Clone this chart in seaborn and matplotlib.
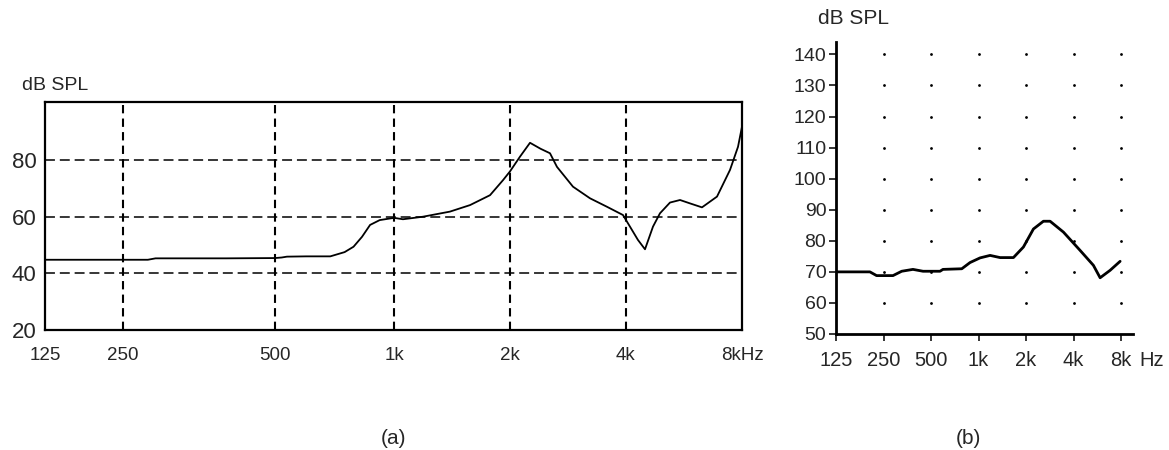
import numpy as np
import pandas as pd
import matplotlib
matplotlib.use("Agg")
import matplotlib.pyplot as plt
import seaborn as sns

# ---- data ----------------------------------------------------------------
# (a) response measured in the ear canal
freq_a = [125, 200, 280, 290, 400, 500, 520, 536, 600, 690, 750, 790, 830, 870,
          920, 1000, 1055, 1189, 1397, 1575, 1775, 1918, 2000, 2123, 2254, 2400,
          2540, 2648, 2914, 3226, 3571, 3928, 4096, 4296, 4481, 4700, 4900,
          5203, 5524, 5864, 6299, 6890, 7446, 7812, 8000]
spl_a = [44.8, 44.8, 44.8, 45.3, 45.3, 45.4, 45.6, 45.9, 46.0, 46.0, 47.5, 49.4,
         52.9, 57.1, 58.8, 59.6, 59.1, 60.0, 61.8, 64.1, 67.6, 72.9, 76.0, 81.2,
         86.1, 84.0, 82.4, 77.6, 70.6, 66.5, 63.5, 60.6, 56.5, 51.8, 48.5, 56.5,
         61.2, 65.0, 65.9, 64.7, 63.3, 67.1, 76.5, 84.7, 91.8]

# (b) response of the second device
freq_b = [125, 205, 226, 287, 326, 384, 445, 570, 595, 783, 883, 1022, 1183,
          1369, 1663, 1924, 2226, 2575, 2839, 3449, 4400, 5341, 5889, 6813, 7885]
spl_b = [70.0, 70.0, 68.8, 68.8, 70.2, 70.8, 70.2, 70.2, 70.8, 71.0, 73.0, 74.5,
         75.3, 74.6, 74.6, 78.0, 83.8, 86.3, 86.3, 82.8, 76.9, 72.1, 68.1, 70.5,
         73.4]

octave_ticks = [125, 250, 500, 1000, 2000, 4000, 8000]
tick_labels_a = ["125", "250", "500", "1k", "2k", "4k", "8kHz"]
tick_labels_b = ["125", "250", "500", "1k", "2k", "4k", "8k"]
yticks_a = [20, 40, 60, 80]
yticks_b = [50, 60, 70, 80, 90, 100, 110, 120, 130, 140]

df_a = pd.DataFrame({"freq": freq_a, "spl": spl_a})
df_b = pd.DataFrame({"freq": freq_b, "spl": spl_b})

# ---- style ---------------------------------------------------------------
sns.set_style("white")
plt.rcParams["font.family"] = ["Liberation Sans", "DejaVu Sans"]

fig = plt.figure(figsize=(11.69, 4.5), dpi=100)

# Panel (a): the analyser spaces its octave columns unevenly
ax_a = fig.add_axes([45 / 1169, 120 / 450, 697 / 1169, 228 / 450])
oct_log = np.log2(np.array(octave_ticks, dtype=float))
col_pos = np.array([45, 123, 275, 394, 510, 626, 742], dtype=float)


def fwd(f):
    f = np.clip(np.asarray(f, dtype=float), 1e-3, None)
    return np.interp(np.log2(f), oct_log, col_pos)


def inv(p):
    return 2.0 ** np.interp(np.asarray(p, dtype=float), col_pos, oct_log)


ax_a.set_xscale("function", functions=(fwd, inv))
sns.lineplot(data=df_a, x="freq", y="spl", ax=ax_a, color="black",
             linewidth=1.3, sort=False)
ax_a.set_xlim(125, 8000)
ax_a.set_ylim(20, 100.5)
ax_a.set_xticks(octave_ticks)
ax_a.set_xticklabels(tick_labels_a)
ax_a.xaxis.set_minor_locator(matplotlib.ticker.NullLocator())
ax_a.set_yticks(yticks_a)
ax_a.tick_params(axis="x", length=0, pad=12, labelsize=13.5)
ax_a.tick_params(axis="y", length=0, pad=6, labelsize=16)
for f in octave_ticks[1:-1]:
    ax_a.axvline(f, color="black", linestyle=(0, (4, 2.5)), linewidth=1.5, zorder=1)
for v in yticks_a[1:]:
    ax_a.axhline(v, color="black", linestyle=(0, (6.5, 3.2)), linewidth=1.1, zorder=1)
for s in ax_a.spines.values():
    s.set_color("black")
    s.set_linewidth(1.6)
ax_a.set_xlabel("")
ax_a.set_ylabel("")
fig.text(22 / 1169, 1 - 86 / 450, "dB SPL", fontsize=14, va="center", ha="left")

# Panel (b): plain octave log axis with dotted grid points
ax_b = fig.add_axes([836 / 1169, 116 / 450, 297 / 1169, 292 / 450])
ax_b.set_xscale("log", base=2)
gx, gy = np.meshgrid(octave_ticks[1:], yticks_b[1:])
ax_b.scatter(gx.ravel(), gy.ravel(), s=4, color="black", linewidths=0, zorder=1)
sns.lineplot(data=df_b, x="freq", y="spl", ax=ax_b, color="black",
             linewidth=2.0, sort=False)
ax_b.set_xlim(125, 8000 * 2 ** 0.25)
ax_b.set_ylim(50, 144)
ax_b.set_xticks(octave_ticks)
ax_b.set_xticklabels(tick_labels_b)
ax_b.xaxis.set_minor_locator(matplotlib.ticker.NullLocator())
ax_b.set_yticks(yticks_b)
ax_b.tick_params(axis="x", direction="out", length=5, width=1.3, pad=7,
                 labelsize=14.5, bottom=True)
ax_b.tick_params(axis="y", direction="out", length=5, width=1.3, pad=2,
                 labelsize=14, left=True)
for side in ("top", "right"):
    ax_b.spines[side].set_visible(False)
for side in ("left", "bottom"):
    ax_b.spines[side].set_color("black")
    ax_b.spines[side].set_linewidth(2.0)
ax_b.set_xlabel("")
ax_b.set_ylabel("")
fig.text(1139 / 1169, 1 - 361 / 450, "Hz", fontsize=14.5, va="center", ha="left")
fig.text(818 / 1169, 1 - 19 / 450, "dB SPL", fontsize=15, va="center", ha="left")

# panel captions
fig.text(394 / 1169, 1 - 438 / 450, "(a)", fontsize=15, ha="center", va="center")
fig.text(968 / 1169, 1 - 438 / 450, "(b)", fontsize=15, ha="center", va="center")

fig.savefig("out.png", dpi=100)
